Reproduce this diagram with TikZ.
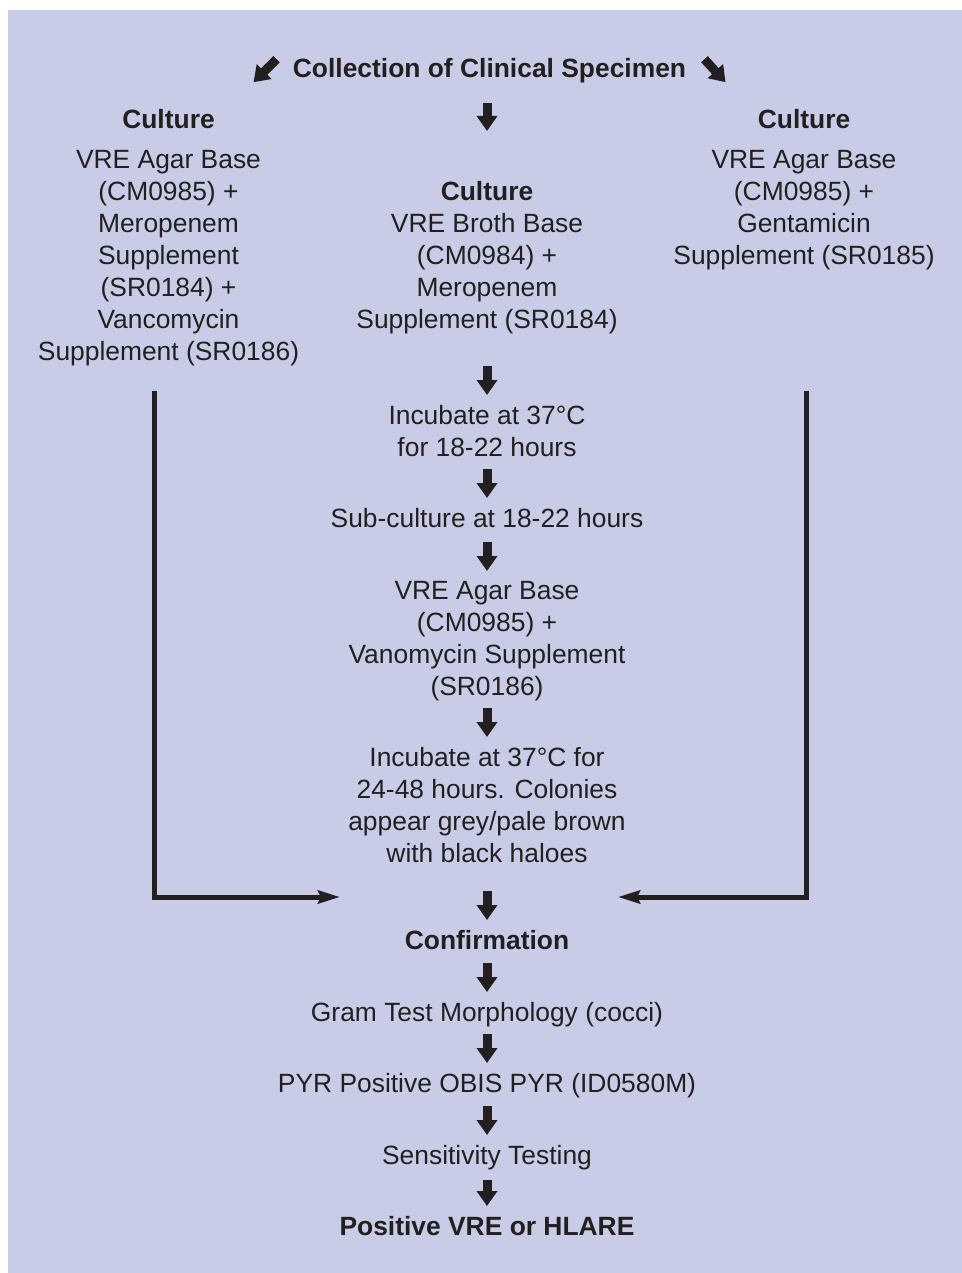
\documentclass[tikz,border=0pt]{standalone}
\usepackage{fontspec}
\setmainfont{Liberation Sans}
\usetikzlibrary{arrows.meta}
\definecolor{panel}{HTML}{C8CCE6}
\definecolor{ink}{HTML}{231F20}
\begin{document}
\begin{tikzpicture}[x=0.5pt,y=-0.5pt,
  every node/.style={font=\fontsize{13.2}{16}\selectfont,text=ink,align=center,inner sep=0pt,anchor=north},
  head/.style={font=\fontsize{13.2}{16}\selectfont\bfseries},
  fat/.style={draw=ink,line width=4.5pt,-{Triangle[length=7.5pt,width=10pt]}},
  side/.style={draw=ink,line width=2.5pt,-{Stealth[length=11pt,width=6.5pt,inset=1.5pt]}}]
\useasboundingbox (0,0) rectangle (962,1273);
\fill[panel] (8,10) rectangle (962,1273);
% specimen and the three cultures
\node[head] (title) at (489.5,58) {Collection of Clinical Specimen};
\node (leftcult) at (168.5,109) {\textbf{Culture}\\[4pt]VRE Agar Base\\(CM0985) +\\Meropenem\\Supplement\\(SR0184) +\\Vancomycin\\Supplement (SR0186)};
\node (midcult) at (487,181) {\textbf{Culture}\\VRE Broth Base\\(CM0984) +\\Meropenem\\Supplement (SR0184)};
\node (rightcult) at (804,109) {\textbf{Culture}\\[4pt]VRE Agar Base\\(CM0985) +\\Gentamicin\\Supplement (SR0185)};
% broth route
\node (incub1) at (487,405) {Incubate at 37°C\\for 18-22 hours};
\node (subcult) at (487,508) {Sub-culture at 18-22 hours};
\node (agar) at (487,581) {VRE Agar Base\\(CM0985) +\\Vanomycin Supplement\\(SR0186)};
\node (incub2) at (487,747) {Incubate at 37°C for\\24-48 hours. Colonies\\appear grey/pale brown\\with black haloes};
% confirmation
\node[head] (confirm) at (487,930) {Confirmation};
\node (gram) at (487,1002) {Gram Test Morphology (cocci)};
\node (pyr) at (487,1073) {PYR Positive OBIS PYR (ID0580M)};
\node (sens) at (487,1145) {Sensitivity Testing};
\node[head] (result) at (487,1216) {Positive VRE or HLARE};
\draw[fat] ([xshift=-8pt,yshift=5.75pt]title.west) -- ([xshift=-19.5pt,yshift=-5.75pt]title.west);
\draw[fat] ([xshift=9pt,yshift=5.75pt]title.east) -- ([xshift=19.5pt,yshift=-5.75pt]title.east);
\draw[fat] ([yshift=39pt]midcult.north) -- ([yshift=25pt]midcult.north);
\draw[fat] ([yshift=19.5pt]incub1.north) -- ([yshift=5pt]incub1.north);
\draw[fat] ([yshift=19.5pt]subcult.north) -- ([yshift=5pt]subcult.north);
\draw[fat] ([yshift=19.5pt]agar.north) -- ([yshift=5pt]agar.north);
\draw[fat] ([yshift=19.5pt]incub2.north) -- ([yshift=5pt]incub2.north);
\draw[fat] ([yshift=19.5pt]confirm.north) -- ([yshift=5pt]confirm.north);
\draw[fat] ([yshift=19.5pt]gram.north) -- ([yshift=5pt]gram.north);
\draw[fat] ([yshift=19.5pt]pyr.north) -- ([yshift=5pt]pyr.north);
\draw[fat] ([yshift=19.5pt]sens.north) -- ([yshift=5pt]sens.north);
\draw[fat] ([yshift=18pt]result.north) -- ([yshift=5pt]result.north);
% plate routes joining at confirmation
\coordinate (ltop) at (154,391);
\coordinate (lend) at (340,897);
\coordinate (rtop) at (806.5,391);
\coordinate (rend) at (618,897);
\draw[side] (ltop) |- (lend);
\draw[side] (rtop) |- (rend);
\end{tikzpicture}
\end{document}
